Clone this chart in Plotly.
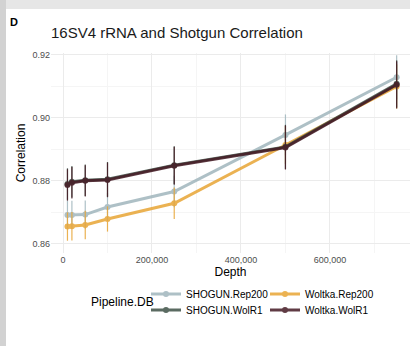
import plotly.graph_objects as go

depth = [10000, 20000, 50000, 100000, 250000, 500000, 750000]

series_names = ["SHOGUN.Rep200", "Woltka.Rep200", "SHOGUN.WolR1", "Woltka.WolR1"]
shogun_rep200 = [0.8692, 0.8692, 0.8693, 0.8717, 0.8766, 0.8946, 0.9129]
woltka_rep200 = [0.8655, 0.8656, 0.8660, 0.8679, 0.8729, 0.8914, 0.9100]
shogun_wolr1 = [0.8790, 0.8797, 0.8802, 0.8805, 0.8850, 0.8908, 0.9108]
woltka_wolr1 = [0.8787, 0.8794, 0.8800, 0.8803, 0.8848, 0.8906, 0.9105]

err_shogun_rep200 = [0.0045, 0.0045, 0.0045, 0.0045, 0.0050, 0.0065, 0.0070]
err_woltka_rep200 = [0.0045, 0.0045, 0.0045, 0.0040, 0.0050, 0.0060, 0.0070]
err_shogun_wolr1 = [0.0050, 0.0050, 0.0050, 0.0055, 0.0060, 0.0070, 0.0075]
err_woltka_wolr1 = [0.0050, 0.0050, 0.0050, 0.0055, 0.0060, 0.0070, 0.0075]

colors = ["#a0b6bd", "#e8a535", "#3f5247", "#451a24"]
legend_ids = ["legend", "legend", "legend2", "legend2"]

x_ticks = [0, 200000, 400000, 600000]
x_tick_labels = ["0", "200,000", "400,000", "600,000"]
y_ticks = [0.86, 0.88, 0.90, 0.92]
y_tick_labels = ["0.86", "0.88", "0.90", "0.92"]

values = [shogun_rep200, woltka_rep200, shogun_wolr1, woltka_wolr1]
errors = [err_shogun_rep200, err_woltka_rep200, err_shogun_wolr1, err_woltka_wolr1]

fig = go.Figure()
for name, vals, errs, col, lg in zip(series_names, values, errors, colors, legend_ids):
    fig.add_trace(go.Scatter(
        x=depth, y=vals, name=name, mode="lines+markers", legend=lg,
        line=dict(color=col, width=3),
        marker=dict(color=col, size=6),
        opacity=0.85,
        error_y=dict(type="data", array=errs, visible=True, thickness=1.2, width=0, color=col),
    ))

W, H = 410, 346
L, T, B = 51, 53, 93
pw = W - L
ph = H - T - B

def px_to_paper_x(px):
    return (px - L) / pw

def py_to_paper_y(py):
    return (H - B - py) / ph

font_family = "Liberation Sans, Arial, Helvetica, sans-serif"

legend_common = dict(orientation="h", xanchor="left", yanchor="middle",
                     font=dict(size=10, color="black"), entrywidth=74,
                     itemwidth=30, bgcolor="rgba(0,0,0,0)")

frame_bands = [
    dict(text=" ", xref="paper", yref="paper", x=px_to_paper_x(0), y=py_to_paper_y(0),
         xanchor="left", yanchor="top", width=W, height=9, bgcolor="#e6e6e6",
         borderpad=0, borderwidth=0, showarrow=False, font=dict(size=1)),
    dict(text=" ", xref="paper", yref="paper", x=px_to_paper_x(0), y=py_to_paper_y(0),
         xanchor="left", yanchor="top", width=6, height=H, bgcolor="#d2d2d2",
         borderpad=0, borderwidth=0, showarrow=False, font=dict(size=1)),
]

fig.update_layout(
    width=W, height=H,
    margin=dict(l=L, r=0, t=T, b=B),
    paper_bgcolor="white", plot_bgcolor="white",
    font=dict(family=font_family, color="black"),
    title=dict(text="16SV4 rRNA and Shotgun Correlation", x=51 / W, xref="container",
               xanchor="left", y=1 - 33 / H, yref="container", yanchor="middle",
               font=dict(size=15, color="#1a1a1a", family=font_family)),
    annotations=frame_bands + [
        dict(text="<b>D</b>", xref="paper", yref="paper",
             x=px_to_paper_x(8), y=py_to_paper_y(22), xanchor="left", yanchor="middle",
             showarrow=False, font=dict(size=11, color="black")),
        dict(text="Pipeline.DB", xref="paper", yref="paper",
             x=px_to_paper_x(89), y=py_to_paper_y(302), xanchor="left", yanchor="middle",
             showarrow=False, font=dict(size=12, color="black")),
    ],
    xaxis=dict(range=[-27000, 780000], tickvals=x_ticks, ticktext=x_tick_labels,
               showgrid=True, gridcolor="#ebebeb", gridwidth=1, zeroline=False,
               minor=dict(tickvals=[100000, 300000, 500000, 700000], showgrid=True,
                          gridcolor="#f5f5f5", gridwidth=0.6),
               tickfont=dict(size=9, color="#4d4d4d"), ticks="",
               title=dict(text="Depth", font=dict(size=12, color="black"), standoff=3)),
    yaxis=dict(range=[0.8571, 0.9206], tickvals=y_ticks, ticktext=y_tick_labels,
               showgrid=True, gridcolor="#ebebeb", gridwidth=1, zeroline=False,
               minor=dict(tickvals=[0.87, 0.89, 0.91], showgrid=True,
                          gridcolor="#f5f5f5", gridwidth=0.6),
               tickfont=dict(size=9, color="#4d4d4d"), ticks="",
               title=dict(text="Correlation", font=dict(size=12, color="black"), standoff=4)),
    legend=dict(x=px_to_paper_x(146), y=py_to_paper_y(294), **legend_common),
    legend2=dict(x=px_to_paper_x(146), y=py_to_paper_y(310), **legend_common),
)

fig.write_html("out.html", config={"displayModeBar": False},
               post_script="document.body.style.margin='0px';")
